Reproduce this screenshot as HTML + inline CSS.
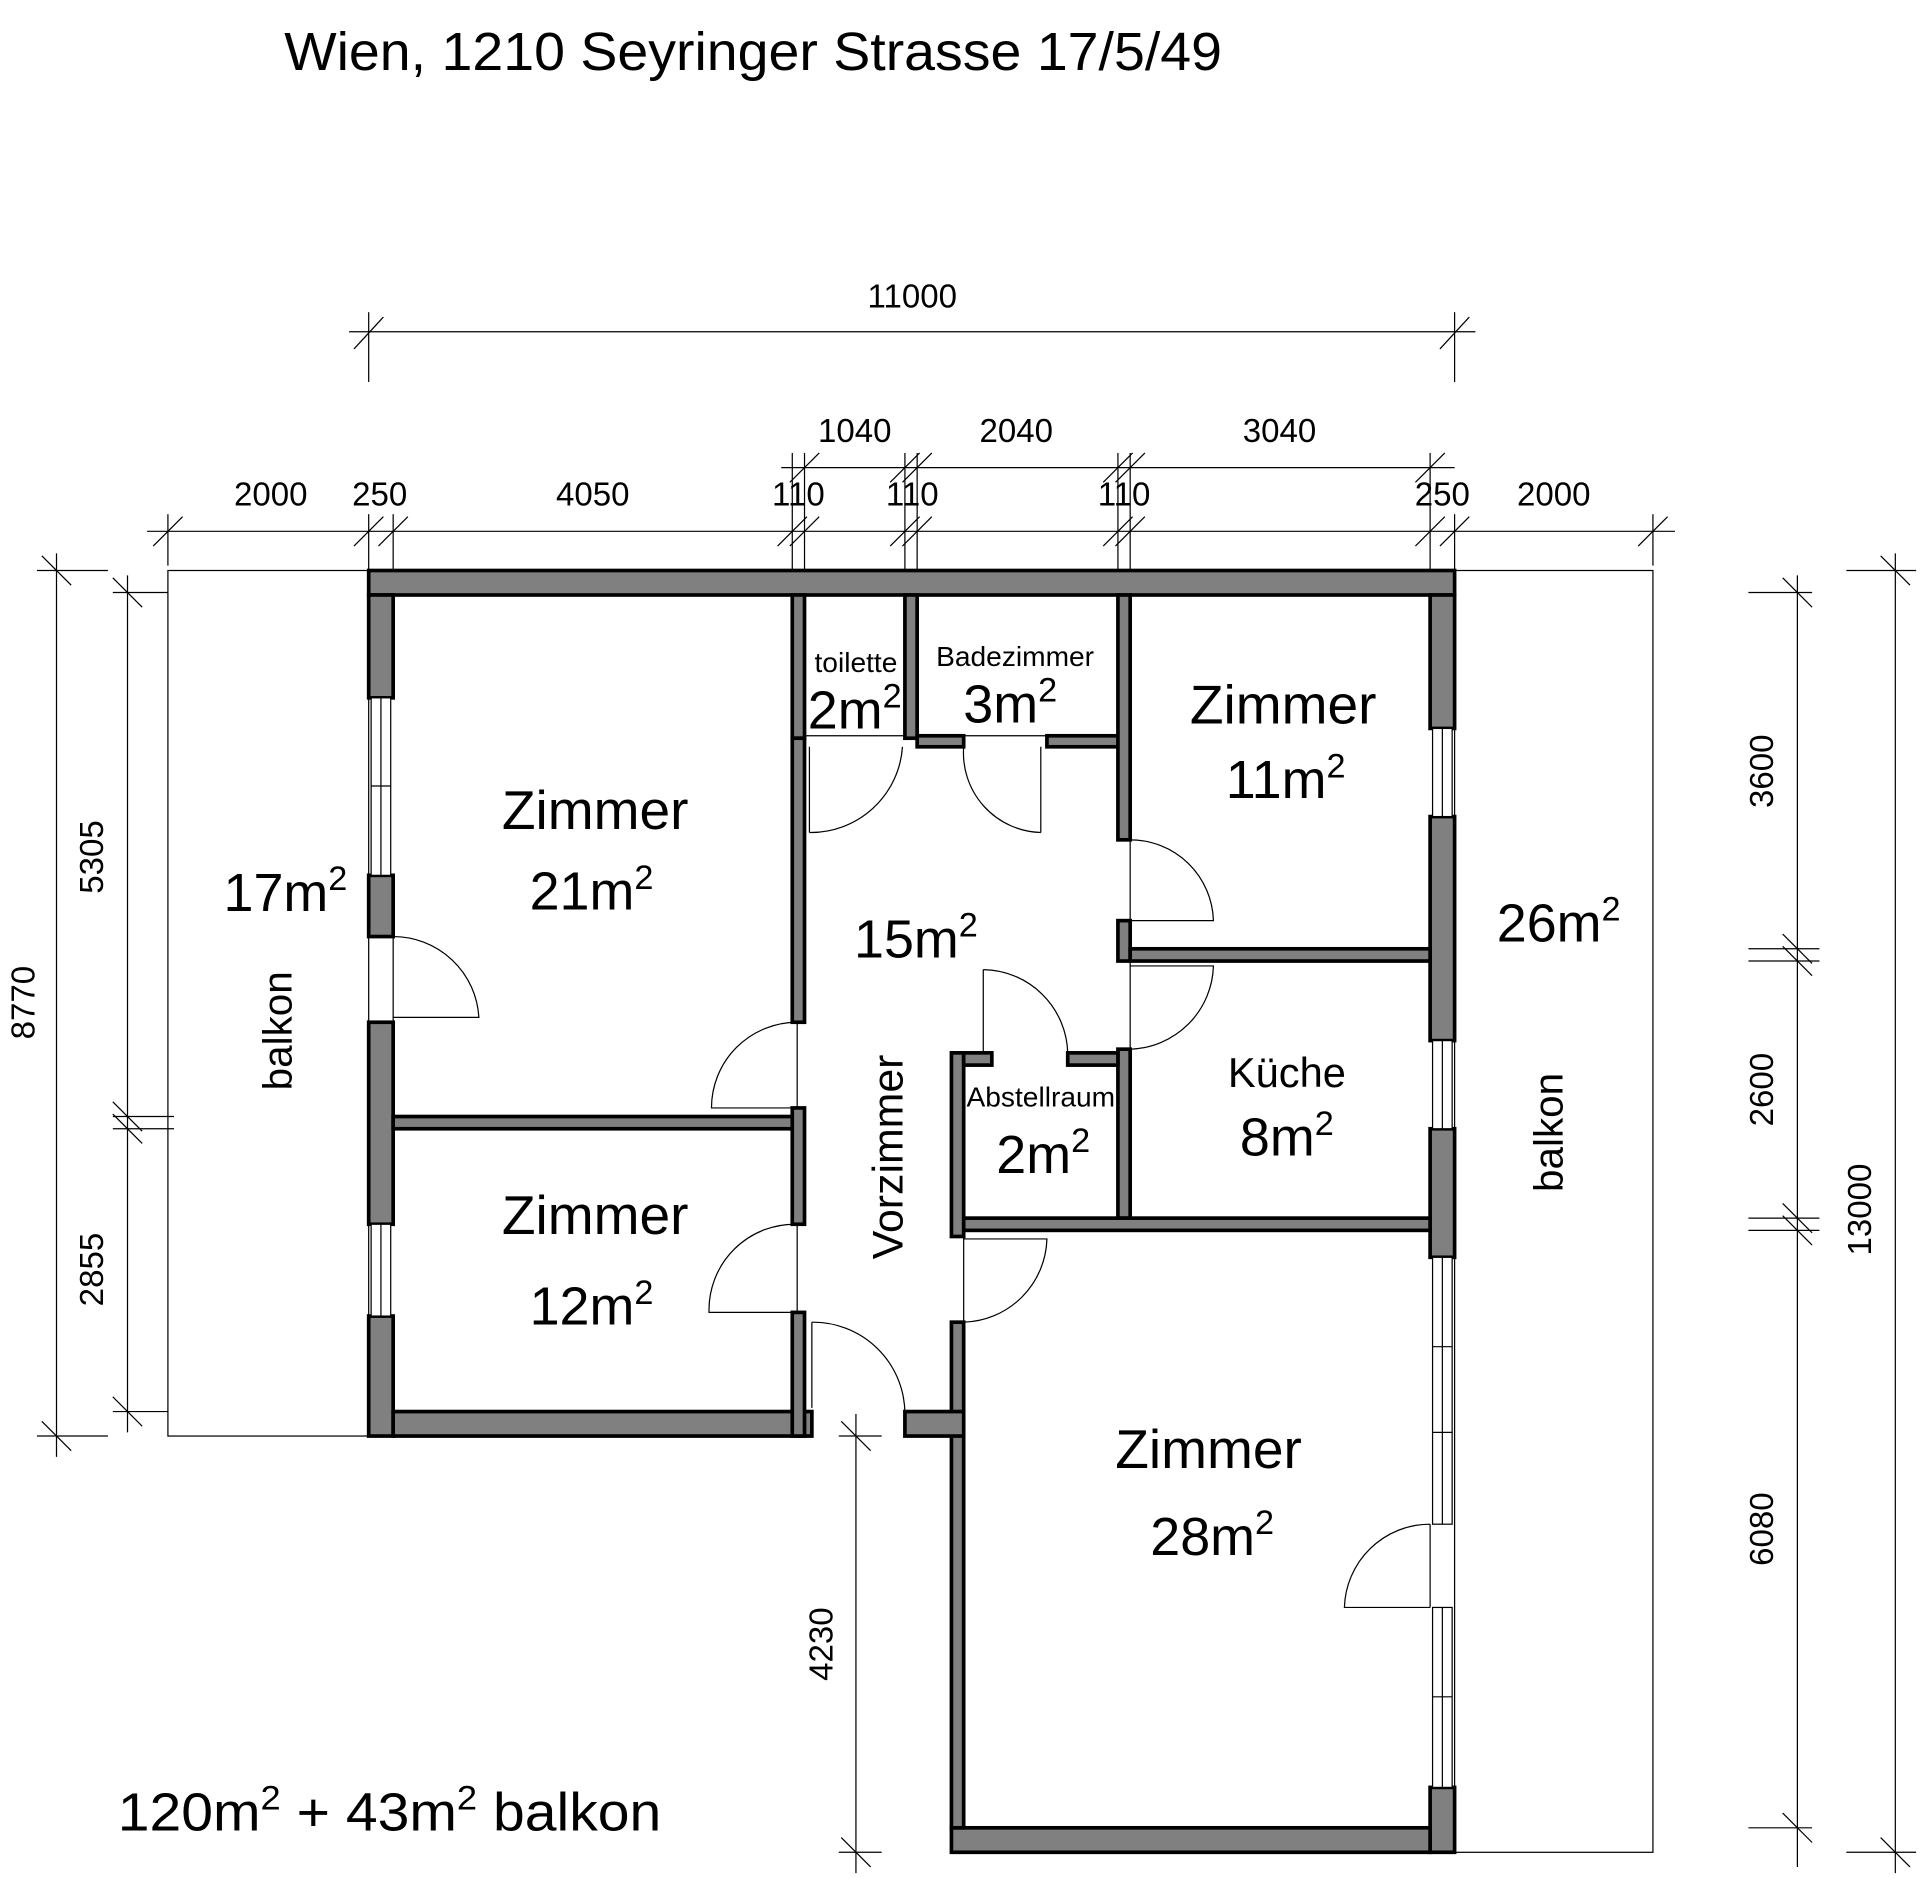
<!DOCTYPE html>
<html><head><meta charset="utf-8"><style>
html,body{margin:0;padding:0;background:#fff}
svg{display:block}
text{font-family:"Liberation Sans",sans-serif;fill:#000}
</style></head><body>
<svg width="1920" height="1878" viewBox="0 0 1568 1534" xmlns="http://www.w3.org/2000/svg">
<rect width="1568" height="1534" fill="#fff"/>
<text x="232" y="57" font-size="44" textLength="766" lengthAdjust="spacingAndGlyphs">Wien, 1210 Seyringer Strasse 17/5/49</text>

<g fill="none" stroke="#000" stroke-width="1">
<rect x="137" y="466" width="164" height="707"/>
<rect x="1188" y="466" width="162" height="1047"/>
</g>

<g fill="#808080" stroke="#000" stroke-width="3">
<rect x="301" y="466" width="887" height="20"/>
<rect x="301" y="486" width="20" height="84"/>
<rect x="301" y="715" width="20" height="50"/>
<rect x="301" y="835" width="20" height="165"/>
<rect x="301" y="1075" width="20" height="98"/>
<rect x="321" y="1153" width="342" height="20"/>
<rect x="1168" y="486" width="20" height="109"/>
<rect x="1168" y="667" width="20" height="183"/>
<rect x="1168" y="922" width="20" height="105"/>
<rect x="1168" y="1460" width="20" height="53"/>
<rect x="777" y="1493" width="391" height="20"/>
<rect x="777" y="1080" width="10" height="413"/>
<rect x="739" y="1153" width="48" height="20"/>
<rect x="321" y="912" width="334" height="10"/>
<rect x="647" y="486" width="10" height="117"/>
<rect x="647" y="603" width="10" height="232"/>
<rect x="647" y="905" width="10" height="95"/>
<rect x="647" y="1072" width="10" height="101"/>
<rect x="739" y="486" width="10" height="117"/>
<rect x="749" y="601" width="38" height="9"/>
<rect x="855" y="601" width="68" height="9"/>
<rect x="913" y="486" width="10" height="200"/>
<rect x="913" y="752" width="10" height="33"/>
<rect x="913" y="857" width="10" height="138"/>
<rect x="923" y="775" width="245" height="10"/>
<rect x="787" y="995" width="381" height="10"/>
<rect x="777" y="860" width="10" height="150"/>
<rect x="787" y="860" width="23" height="10"/>
<rect x="872" y="860" width="41" height="10"/>
</g>

<g fill="#fff" stroke="#000" stroke-width="1">
<rect x="303" y="570" width="16" height="145"/><line x1="311" y1="570" x2="311" y2="715"/><line x1="303" y1="642" x2="319" y2="642"/>
<rect x="303" y="1000" width="16" height="75"/><line x1="311" y1="1000" x2="311" y2="1075"/>
<rect x="1170" y="595" width="16" height="72"/><line x1="1178" y1="595" x2="1178" y2="667"/>
<rect x="1170" y="850" width="16" height="72"/><line x1="1178" y1="850" x2="1178" y2="922"/>
<rect x="1170" y="1027" width="16" height="218"/><line x1="1178" y1="1027" x2="1178" y2="1245"/><line x1="1170" y1="1100" x2="1186" y2="1100"/><line x1="1170" y1="1170" x2="1186" y2="1170"/>
<rect x="1170" y="1313" width="16" height="147"/><line x1="1178" y1="1313" x2="1178" y2="1460"/><line x1="1170" y1="1386" x2="1186" y2="1386"/>
<line x1="657" y1="601" x2="739" y2="601"/><line x1="787" y1="601" x2="855" y2="601"/>
</g>

<g fill="none" stroke="#000" stroke-width="1">
<path d="M321 765 L321 835 M321 765 A70 70 0 0 1 391 831 L321 831"/>
<path d="M651 835 L651 905 M651 905 L581 905 A70 70 0 0 1 651 835"/>
<path d="M651 1000 L651 1072 M651 1072 L579 1072 A70 70 0 0 1 651 1000"/>
<path d="M663 1080 L663 1150 M663 1080 A75 75 0 0 1 739 1155"/>
<path d="M661 610 L661 680 M661 680 A75 75 0 0 0 737 610"/>
<path d="M850 610 L850 680 M850 680 A65 65 0 0 1 787 610"/>
<path d="M923 686 L923 752 M923 686 A68 68 0 0 1 991 752 L923 752"/>
<path d="M923 785 L923 857 M923 857 A70 70 0 0 0 991 789 L923 789"/>
<path d="M803 792 L803 860 M803 792 A70 70 0 0 1 872 860"/>
<path d="M787 1010 L787 1080 M787 1080 A70 70 0 0 0 855 1012 L787 1012"/>
<path d="M1168 1245 L1168 1313 M1168 1245 A70 70 0 0 0 1098 1313 L1168 1313"/>
</g>

<g text-anchor="middle">
<text x="486" y="677" font-size="45">Zimmer</text>
<text x="483" y="743" font-size="44">21m<tspan font-size="28" dy="-17">2</tspan></text>
<text x="486" y="1008" font-size="45">Zimmer</text>
<text x="483" y="1082" font-size="44">12m<tspan font-size="28" dy="-17">2</tspan></text>
<text x="233" y="744" font-size="44">17m<tspan font-size="28" dy="-17">2</tspan></text>
<text x="699" y="549" font-size="23">toilette</text>
<text x="698" y="595" font-size="44">2m<tspan font-size="28" dy="-17">2</tspan></text>
<text x="829" y="544" font-size="23">Badezimmer</text>
<text x="825" y="590" font-size="44">3m<tspan font-size="28" dy="-17">2</tspan></text>
<text x="1048" y="591" font-size="45">Zimmer</text>
<text x="1050" y="652" font-size="44">11m<tspan font-size="28" dy="-17">2</tspan></text>
<text x="748" y="782" font-size="44">15m<tspan font-size="28" dy="-17">2</tspan></text>
<text x="1273" y="769" font-size="44">26m<tspan font-size="28" dy="-17">2</tspan></text>
<text x="1051" y="888" font-size="34">Küche</text>
<text x="1051" y="944" font-size="44">8m<tspan font-size="28" dy="-17">2</tspan></text>
<text x="850" y="904" font-size="23">Abstellraum</text>
<text x="852" y="958" font-size="44">2m<tspan font-size="28" dy="-17">2</tspan></text>
<text x="987" y="1199" font-size="45">Zimmer</text>
<text x="990" y="1270" font-size="44">28m<tspan font-size="28" dy="-17">2</tspan></text>
<text transform="translate(737,945) rotate(-90)" font-size="35">Vorzimmer</text>
<text transform="translate(238,842) rotate(-90)" font-size="33">balkon</text>
<text transform="translate(1276,925) rotate(-90)" font-size="33">balkon</text>
</g>
<text x="96" y="1495" font-size="44" textLength="444" lengthAdjust="spacingAndGlyphs">120m<tspan font-size="28" dy="-17">2</tspan><tspan dy="17">  +  43m</tspan><tspan font-size="28" dy="-17">2</tspan><tspan dy="17"> balkon</tspan></text>

<g stroke="#000" stroke-width="1" fill="none">
<line x1="285" y1="271" x2="1205" y2="271"/>
<line x1="301" y1="255" x2="301" y2="312"/><line x1="1188" y1="255" x2="1188" y2="312"/>
<line x1="289" y1="285" x2="313" y2="259"/><line x1="1176" y1="285" x2="1200" y2="259"/>
<line x1="120" y1="434" x2="1368" y2="434"/>
<line x1="638" y1="382" x2="1188" y2="382"/>
<line x1="137" y1="420" x2="137" y2="462"/><line x1="1350" y1="420" x2="1350" y2="462"/>
<line x1="125" y1="446" x2="149" y2="422"/><line x1="1338" y1="446" x2="1362" y2="422"/>
<g>
<line x1="301" y1="420" x2="301" y2="466"/><line x1="289" y1="446" x2="313" y2="422"/>
<line x1="321" y1="420" x2="321" y2="466"/><line x1="309" y1="446" x2="333" y2="422"/>
<line x1="647" y1="370" x2="647" y2="466"/><line x1="635" y1="446" x2="659" y2="422"/>
<line x1="657" y1="370" x2="657" y2="466"/><line x1="645" y1="446" x2="669" y2="422"/><line x1="645" y1="394" x2="669" y2="370"/>
<line x1="739" y1="370" x2="739" y2="466"/><line x1="727" y1="446" x2="751" y2="422"/><line x1="727" y1="394" x2="751" y2="370"/>
<line x1="749" y1="370" x2="749" y2="466"/><line x1="737" y1="446" x2="761" y2="422"/><line x1="737" y1="394" x2="761" y2="370"/>
<line x1="913" y1="370" x2="913" y2="466"/><line x1="901" y1="446" x2="925" y2="422"/><line x1="901" y1="394" x2="925" y2="370"/>
<line x1="923" y1="370" x2="923" y2="466"/><line x1="911" y1="446" x2="935" y2="422"/><line x1="911" y1="394" x2="935" y2="370"/>
<line x1="1168" y1="370" x2="1168" y2="466"/><line x1="1156" y1="446" x2="1180" y2="422"/><line x1="1156" y1="394" x2="1180" y2="370"/>
<line x1="1188" y1="420" x2="1188" y2="466"/><line x1="1176" y1="446" x2="1200" y2="422"/>
</g>
<line x1="46" y1="452" x2="46" y2="1190"/>
<line x1="30" y1="466" x2="88" y2="466"/><line x1="30" y1="1173" x2="88" y2="1173"/>
<line x1="34" y1="454" x2="58" y2="478"/><line x1="34" y1="1161" x2="58" y2="1185"/>
<line x1="104" y1="470" x2="104" y2="1170"/>
<line x1="92" y1="484" x2="137" y2="484"/><line x1="92" y1="912" x2="142" y2="912"/><line x1="92" y1="922" x2="142" y2="922"/><line x1="92" y1="1153" x2="137" y2="1153"/>
<line x1="92" y1="472" x2="116" y2="496"/><line x1="92" y1="900" x2="116" y2="924"/><line x1="92" y1="910" x2="116" y2="934"/><line x1="92" y1="1141" x2="116" y2="1165"/>
<line x1="1468" y1="470" x2="1468" y2="1525"/>
<line x1="1428" y1="484" x2="1480" y2="484"/><line x1="1428" y1="775" x2="1486" y2="775"/><line x1="1428" y1="785" x2="1486" y2="785"/><line x1="1428" y1="995" x2="1486" y2="995"/><line x1="1428" y1="1005" x2="1486" y2="1005"/><line x1="1428" y1="1493" x2="1480" y2="1493"/>
<line x1="1456" y1="472" x2="1480" y2="496"/><line x1="1456" y1="763" x2="1480" y2="787"/><line x1="1456" y1="773" x2="1480" y2="797"/><line x1="1456" y1="983" x2="1480" y2="1007"/><line x1="1456" y1="993" x2="1480" y2="1017"/><line x1="1456" y1="1481" x2="1480" y2="1505"/>
<line x1="1548" y1="452" x2="1548" y2="1530"/>
<line x1="1508" y1="466" x2="1565" y2="466"/><line x1="1508" y1="1513" x2="1565" y2="1513"/>
<line x1="1536" y1="454" x2="1560" y2="478"/><line x1="1536" y1="1501" x2="1560" y2="1525"/>
<line x1="699" y1="1155" x2="699" y2="1530"/>
<line x1="685" y1="1173" x2="720" y2="1173"/><line x1="685" y1="1513" x2="720" y2="1513"/>
<line x1="687" y1="1161" x2="711" y2="1185"/><line x1="687" y1="1501" x2="711" y2="1525"/>
</g>
<g font-size="27" text-anchor="middle">
<text x="745" y="251">11000</text>
<text x="698" y="361">1040</text><text x="830" y="361">2040</text><text x="1045" y="361">3040</text>
<text x="221" y="413">2000</text><text x="310" y="413">250</text><text x="484" y="413">4050</text>
<text x="652" y="413">110</text><text x="745" y="413">110</text><text x="918" y="413">110</text>
<text x="1178" y="413">250</text><text x="1269" y="413">2000</text>
<text transform="translate(84,700) rotate(-90)">5305</text>
<text transform="translate(84,1037) rotate(-90)">2855</text>
<text transform="translate(28,819) rotate(-90)">8770</text>
<text transform="translate(1448,630) rotate(-90)">3600</text>
<text transform="translate(1448,890) rotate(-90)">2600</text>
<text transform="translate(1448,1249) rotate(-90)">6080</text>
<text transform="translate(1528,988) rotate(-90)">13000</text>
<text transform="translate(680,1343) rotate(-90)">4230</text>
</g>
</svg>
</body></html>
